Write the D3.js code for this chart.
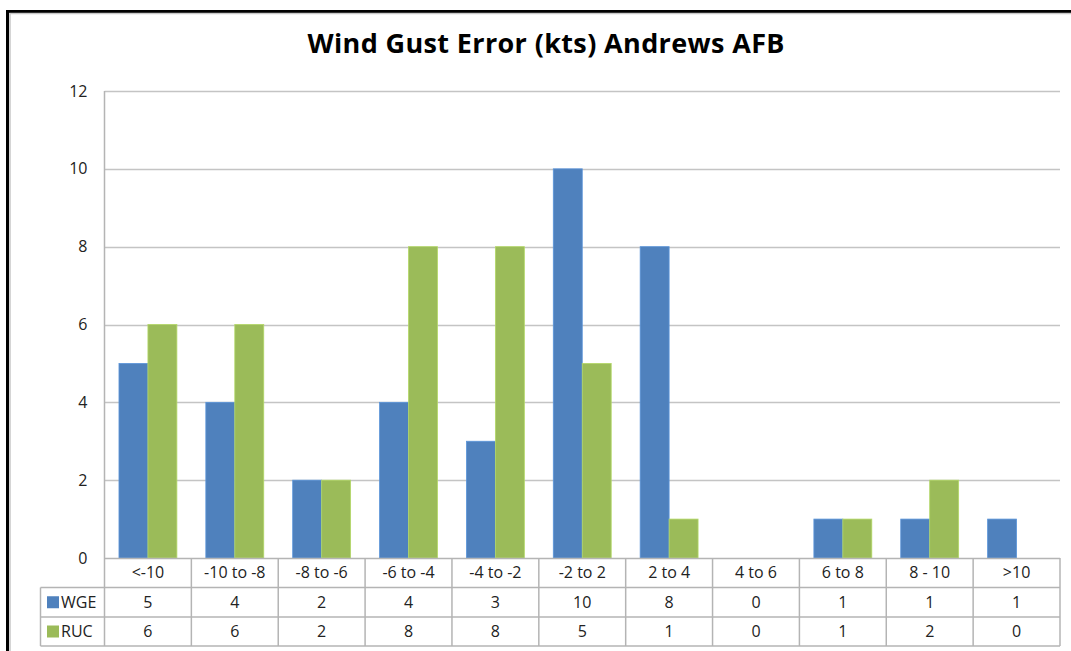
<!DOCTYPE html>
<html>
<head>
<meta charset="utf-8">
<script src="https://cdn.jsdelivr.net/npm/d3@7"></script>
<style>
  html, body { margin: 0; padding: 0; background: #fff; }
  svg { display: block; }
  text { font-family: "Open Sans", Lato, sans-serif; fill: #222; }
</style>
</head>
<body>
<svg id="chart" width="1071" height="651"></svg>
<script>
const title = "Wind Gust Error (kts) Andrews AFB";
const categories = ["<-10", "-10 to -8", "-8 to -6", "-6 to -4", "-4 to -2", "-2 to 2", "2 to 4", "4 to 6", "6 to 8", "8 - 10", ">10"];
const seriesNames = ["WGE", "RUC"];
const wgeValues = [5, 4, 2, 4, 3, 10, 8, 0, 1, 1, 1];
const rucValues = [6, 6, 2, 8, 8, 5, 1, 0, 1, 2, 0];
const yTicks = [0, 2, 4, 6, 8, 10, 12];
const colors = ["#4F81BD", "#9BBB59"];

const series = [wgeValues, rucValues];
const svg = d3.select("#chart");

// frame
svg.append("rect").attr("x", 7.5).attr("y", 11.5).attr("width", 1100).attr("height", 700)
  .attr("fill", "none").attr("stroke", "#000").attr("stroke-width", 3);
svg.append("path").attr("d", "M10,700 V13.5 H1100")
  .attr("fill", "none").attr("stroke", "#c8c8c8").attr("stroke-width", 1.5);

const plotL = 104.5, plotR = 1060, plotT = 91, plotB = 558;
const x = d3.scaleBand().domain(categories).range([plotL, plotR]).paddingInner(0).paddingOuter(0);
const y = d3.scaleLinear().domain([0, 12]).range([plotB, plotT]);
const sub = d3.scaleBand().domain(d3.range(series.length)).range([0, x.bandwidth()]).paddingOuter(0.5).paddingInner(0);

// title
svg.append("text").attr("x", 546).attr("y", 53).attr("text-anchor", "middle")
  .attr("textLength", 477).attr("lengthAdjust", "spacing")
  .style("font-size", "27px").style("font-weight", "bold").style("fill", "#000").text(title);

// gridlines
svg.append("g").selectAll("line").data(yTicks.filter(d => d > 0)).join("line")
  .attr("x1", plotL).attr("x2", plotR).attr("y1", d => Math.round(y(d)) + 0.5).attr("y2", d => Math.round(y(d)) + 0.5)
  .attr("stroke", "#c4c4c4").attr("stroke-width", 1.5);

// y tick labels
const yAxis = d3.axisLeft(y).tickValues(yTicks).tickSize(0).tickPadding(17);
const ya = svg.append("g").attr("transform", `translate(${plotL},0)`).call(yAxis);
ya.select(".domain").remove();
ya.selectAll("text").style("font-size", "16px").style("font-family", "'Open Sans', Lato, sans-serif").attr("fill", "#222");

// bars
series.forEach((vals, si) => {
  svg.append("g").selectAll("rect").data(vals).join("rect")
    .attr("x", (d, i) => x(categories[i]) + sub(si))
    .attr("width", sub.bandwidth())
    .attr("y", d => y(d))
    .attr("height", d => plotB - y(d))
    .attr("fill", colors[si])
    .attr("stroke", d3.color(colors[si]).brighter(0.4))
    .attr("stroke-width", d => d > 0 ? 0.8 : 0);
});

// table
const rowH = [plotB, 587.5, 617, 646];
const tableLeft = 40.5;
const lineCol = "#b4b4b4";
const tg = svg.append("g");
tg.append("line").attr("x1", plotL).attr("x2", plotL).attr("y1", plotT).attr("y2", rowH[3]).attr("stroke", lineCol).attr("stroke-width", 1.5);
tg.append("line").attr("x1", plotL).attr("x2", plotR).attr("y1", plotB + 0.5).attr("y2", plotB + 0.5).attr("stroke", lineCol).attr("stroke-width", 1.5);
[rowH[1], rowH[2], rowH[3]].forEach(yy => {
  tg.append("line").attr("x1", tableLeft).attr("x2", plotR).attr("y1", yy).attr("y2", yy).attr("stroke", lineCol).attr("stroke-width", 1.5);
});
tg.append("line").attr("x1", tableLeft).attr("x2", tableLeft).attr("y1", rowH[1]).attr("y2", rowH[3]).attr("stroke", lineCol).attr("stroke-width", 1.5);
categories.forEach((c, i) => {
  const xx = x(c) + x.bandwidth();
  tg.append("line").attr("x1", xx).attr("x2", xx).attr("y1", plotB).attr("y2", rowH[3]).attr("stroke", lineCol).attr("stroke-width", 1.5);
});
tg.selectAll("text.cat").data(categories).join("text").attr("class", "cat")
  .attr("x", d => x(d) + x.bandwidth() / 2).attr("y", (rowH[0] + rowH[1]) / 2).attr("dy", "0.35em")
  .attr("text-anchor", "middle").style("font-size", "16px").text(d => d);
series.forEach((vals, si) => {
  const cy = (rowH[si + 1] + rowH[si + 2]) / 2;
  tg.append("rect").attr("x", 47).attr("y", cy - 6).attr("width", 12).attr("height", 12).attr("fill", colors[si]);
  tg.append("text").attr("x", 61).attr("y", cy).attr("dy", "0.35em").style("font-size", "16px").text(seriesNames[si]);
  tg.selectAll(null).data(vals).join("text")
    .attr("x", (d, i) => x(categories[i]) + x.bandwidth() / 2).attr("y", cy).attr("dy", "0.35em")
    .attr("text-anchor", "middle").style("font-size", "16px").text(d => d);
});
</script>
</body>
</html>
